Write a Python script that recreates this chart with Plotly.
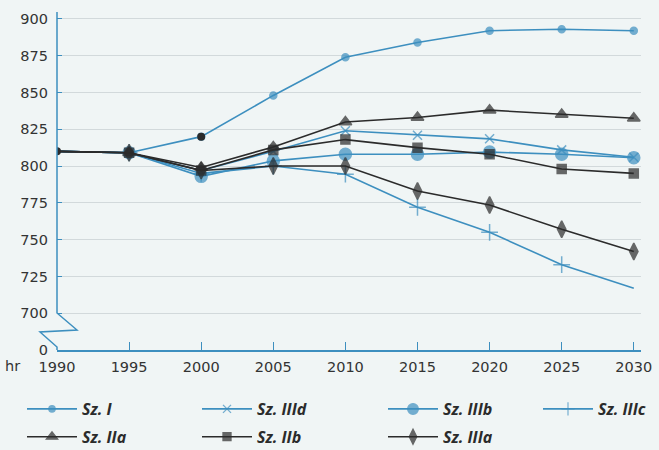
import plotly.graph_objects as go

years = [1990, 1995, 2000, 2005, 2010, 2015, 2020, 2025, 2030]

sz_i    = [810, 809, 820, 848, 874, 884, 892, 893, 892]
sz_iiid = [810, 809, 797, 810, 824, 821, 818.5, 811, 806]
sz_iiib = [810, 809, 793, 803.5, 808, 808, 809.5, 808, 805.7]
sz_iiic = [810, 809, 795, 800, 794.5, 772, 755, 733, 717]
sz_iia  = [810, 809, 799, 813, 830, 833, 838, 835, 832.5]
sz_iib  = [810, 809, 797, 811, 818, 812.5, 808, 798, 795]
sz_iiia = [810, 809, 797, 800, 800, 783, 773.5, 757, 742]

hist_years = [1990, 2000]
hist_vals = [810, 820]

y_ticks = [675, 700, 725, 750, 775, 800, 825, 850, 875, 900]
y_labels = ["0", "700", "725", "750", "775", "800", "825", "850", "875", "900"]
x_ticks = years
x_title = "hr"

BLUE = "#3d8fbf"
BLACK = "#2b2b2b"
BG = "#f0f5f5"
TXT = "#333333"

# name, values, colour, symbol, size, legend column, marker on last point
series = [
    ("Sz. I", sz_i, BLUE, "circle", 7, "legend", True),
    ("Sz. IIId", sz_iiid, BLUE, "x-thin-open", 9, "legend2", True),
    ("Sz. IIIb", sz_iiib, BLUE, "circle", 12, "legend3", True),
    ("Sz. IIIc", sz_iiic, BLUE, "cross-thin-open", 12, "legend4", False),
    ("Sz. IIa", sz_iia, BLACK, "triangle-up", 11, "legend", True),
    ("Sz. IIb", sz_iib, BLACK, "square", 9, "legend2", True),
    ("Sz. IIIa", sz_iiia, BLACK, "diamond-tall", 12, "legend3", True),
]

fig = go.Figure()
for name, vals, col, sym, size, leg, last in series:
    n = len(vals)
    sizes = [0] + [size] * (n - 1)
    lws = [0] + [1.5] * (n - 1)
    if not last:
        sizes[-1] = 0
        lws[-1] = 0
    fig.add_trace(go.Scatter(
        x=years, y=vals, name=name, mode="lines+markers",
        legend=leg, legendgroup=name,
        line=dict(color=col, width=1.6),
        marker=dict(symbol=sym, size=sizes, color=col,
                    line=dict(color=col, width=lws)),
    ))

fig.add_trace(go.Scatter(
    x=hist_years, y=hist_vals, mode="markers", showlegend=False,
    marker=dict(symbol="circle", size=8, color=BLACK),
))

W, H = 659, 450
L, R, T, B = 57, 18, 12, 100
pw, ph = W - L - R, H - T - B


def px(x, y):
    return (x - L) / pw, (H - B - y) / ph


pts = [(57, 12), (57, 313), (77, 330), (40, 332), (57, 347), (57, 350)]
path = "M " + " L ".join(f"{px(a, b)[0]:.4f},{px(a, b)[1]:.4f}" for a, b in pts)
fig.add_shape(type="path", path=path, xref="paper", yref="paper",
              line=dict(color=BLUE, width=1.5), layer="above")

fig.add_annotation(text=x_title, xref="paper", yref="paper",
                   x=px(22, 0)[0], y=px(0, 366)[1], xanchor="right", yanchor="middle",
                   showarrow=False, font=dict(size=14.5, color=TXT, family="DejaVu Sans"))

leg_font = dict(size=16, color=BLACK, family="Open Sans", weight="bold", style="italic")
IW = 50
leg_common = dict(orientation="v", xref="container", yref="container",
                  yanchor="top", xanchor="left", font=leg_font,
                  bgcolor="rgba(0,0,0,0)", itemwidth=IW,
                  traceorder="grouped", tracegroupgap=4)
text_x = [82, 257, 443, 598]
leg_x = [t - IW - 10 for t in text_x]
leg_top = 392

fig.update_layout(
    width=W, height=H,
    margin=dict(l=L, r=R, t=T, b=B, autoexpand=False),
    paper_bgcolor=BG, plot_bgcolor=BG,
    font=dict(family="DejaVu Sans", size=14.5, color=TXT),
    legend=dict(x=leg_x[0] / W, y=1 - leg_top / H, **leg_common),
    legend2=dict(x=leg_x[1] / W, y=1 - leg_top / H, **leg_common),
    legend3=dict(x=leg_x[2] / W, y=1 - leg_top / H, **leg_common),
    legend4=dict(x=leg_x[3] / W, y=1 - leg_top / H, **leg_common),
    xaxis=dict(
        range=[1990, 2030.5], tickvals=x_ticks, showgrid=False, zeroline=False,
        showline=True, linecolor=BLUE, linewidth=1.5,
        ticks="inside", ticklen=8, tickcolor=BLUE, tickwidth=1,
        ticklabelstandoff=3,
    ),
    yaxis=dict(
        range=[675, 904.7], tickvals=y_ticks, ticktext=y_labels,
        showgrid=True, gridcolor="#d2d9db", gridwidth=1, zeroline=False,
        showline=False, ticks="inside", ticklen=5, tickcolor=BLUE, tickwidth=1,
        ticklabelstandoff=8,
    ),
)

fig.write_html("out.html", config={"displayModeBar": False},
               post_script="document.body.style.margin='0';document.body.style.background='%s';" % BG)
